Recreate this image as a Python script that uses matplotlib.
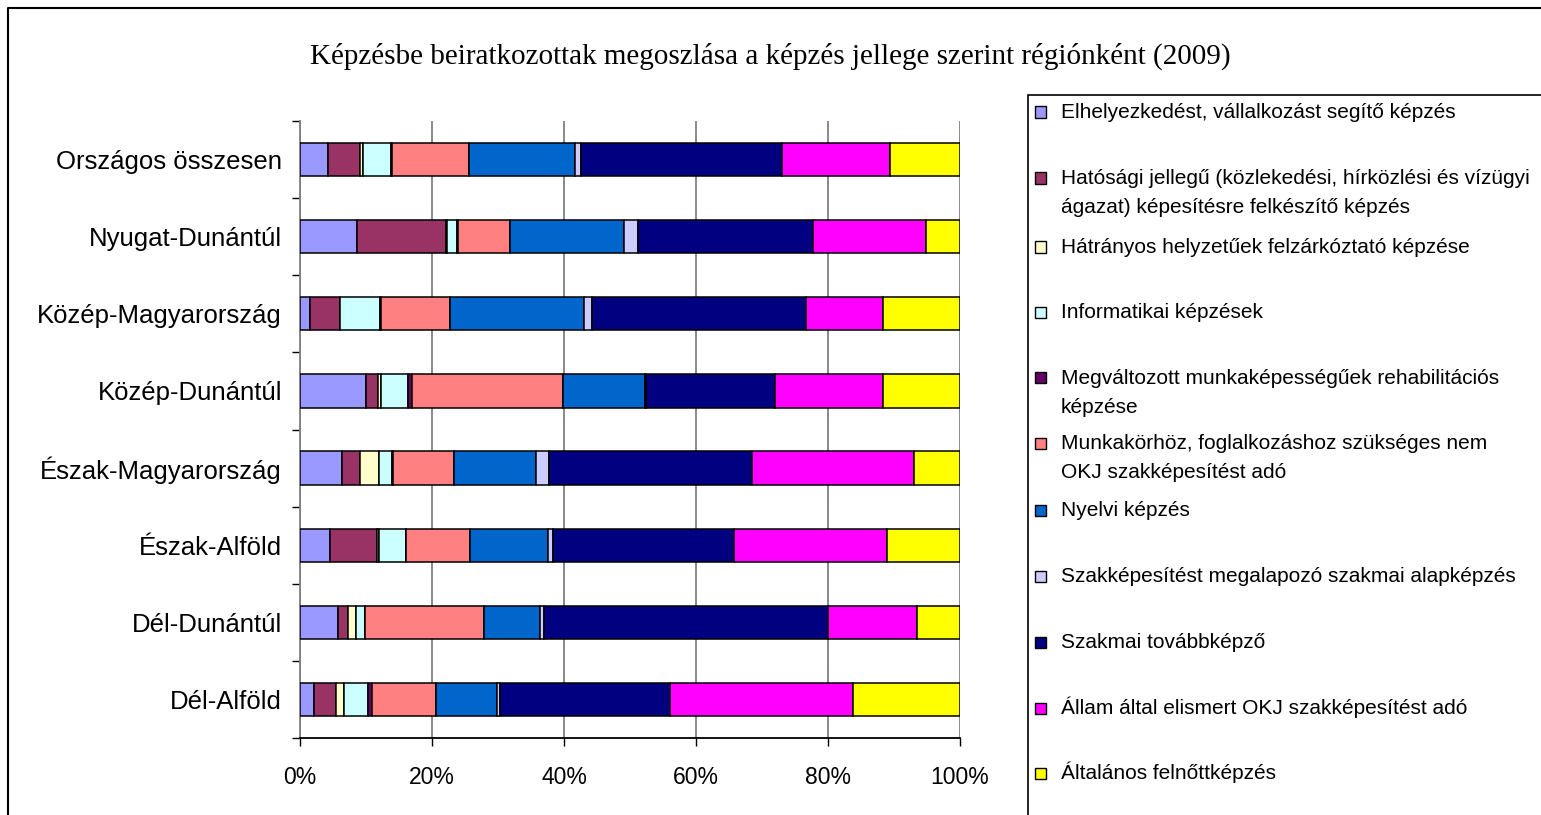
import matplotlib
matplotlib.use('Agg')
import matplotlib.pyplot as plt
from matplotlib.patches import Rectangle
from matplotlib.lines import Line2D
import numpy as np

W, H = 1541, 815
DPI = 100

regions = ["Országos összesen", "Nyugat-Dunántúl", "Közép-Magyarország",
           "Közép-Dunántúl", "Észak-Magyarország", "Észak-Alföld",
           "Dél-Dunántúl", "Dél-Alföld"]

series_names = [
    "Elhelyezkedést, vállalkozást segítő képzés",
    "Hatósági jellegű (közlekedési, hírközlési és vízügyi\nágazat) képesítésre felkészítő képzés",
    "Hátrányos helyzetűek felzárkóztató képzése",
    "Informatikai képzések",
    "Megváltozott munkaképességűek rehabilitációs\nképzése",
    "Munkakörhöz, foglalkozáshoz szükséges nem\nOKJ szakképesítést adó",
    "Nyelvi képzés",
    "Szakképesítést megalapozó szakmai alapképzés",
    "Szakmai továbbképző",
    "Állam által elismert OKJ szakképesítést adó",
    "Általános felnőttképzés",
]

colors = ["#9999FF", "#993366", "#FFFFCC", "#CCFFFF", "#660066", "#FF8080",
          "#0066CC", "#CCCCFF", "#000080", "#FF00FF", "#FFFF00"]

# shares (%) per region, in the order of `regions`
elhelyezkedest = [4.2, 8.7, 1.5, 10.0, 6.3, 4.6, 5.8, 2.1]
hatosagi       = [4.9, 13.4, 4.6, 1.8, 2.8, 7.0, 1.5, 3.4]
hatranyos      = [0.4, 0.2, 0.0, 0.4, 2.8, 0.4, 1.2, 1.1]
informatikai   = [4.3, 1.5, 6.0, 4.1, 2.1, 4.1, 1.3, 3.7]
megvaltozott   = [0.2, 0.1, 0.1, 0.7, 0.1, 0.0, 0.1, 0.6]
munkakorhoz    = [11.6, 7.9, 10.5, 22.9, 9.2, 9.6, 18.0, 9.7]
nyelvi         = [16.1, 17.3, 20.3, 12.3, 12.4, 11.9, 8.5, 9.3]
szakk_alap     = [0.9, 2.1, 1.2, 0.2, 2.1, 0.8, 0.5, 0.4]
szakmai_tovabb = [30.5, 26.6, 32.5, 19.5, 30.7, 27.3, 43.1, 25.7]
allam_okj      = [16.3, 17.0, 11.7, 16.5, 24.5, 23.3, 13.5, 27.8]
altalanos      = [10.6, 5.2, 11.6, 11.6, 7.0, 11.0, 6.5, 16.2]

series_values = [elhelyezkedest, hatosagi, hatranyos, informatikai, megvaltozott,
                 munkakorhoz, nyelvi, szakk_alap, szakmai_tovabb, allam_okj, altalanos]

xticks = [0, 20, 40, 60, 80, 100]
xticklabels = ["0%", "20%", "40%", "60%", "80%", "100%"]

title = "Képzésbe beiratkozottak megoszlása a képzés jellege szerint régiónként (2009)"

fig = plt.figure(figsize=(W / DPI, H / DPI), dpi=DPI)
fig.patch.set_facecolor("white")

def fx(x):
    return x / W

def fy(y):
    return 1 - y / H

# outer chart border (left and top edges visible)
fig.add_artist(Line2D([fx(8), fx(8), fx(1545)], [fy(830), fy(8), fy(8)],
                      transform=fig.transFigure, color="black", linewidth=1.5))

ax = fig.add_axes([fx(300), fy(738), fx(960) - fx(300), fy(121) - fy(738)])

data = np.array(series_values, dtype=float)
data = data / data.sum(axis=0) * 100
ypos = np.arange(len(regions))
left = np.zeros(len(regions))
for vals, col, name in zip(data, colors, series_names):
    ax.barh(ypos, vals, left=left, height=0.43, color=col, edgecolor="black",
            linewidth=1.1, label=name, zorder=3)
    left += vals

ax.set_xlim(0, 100)
ax.set_ylim(len(regions) - 0.5, -0.5)

ax.set_xticks(xticks)
ax.set_xticklabels(xticklabels, fontsize=16.5, family="Liberation Sans")
ax.tick_params(axis="x", direction="out", length=6, width=1, color="black", pad=14)

ax.set_yticks(np.arange(-0.5, len(regions), 1.0))
ax.set_yticklabels([])
ax.set_yticks(ypos, minor=True)
ax.set_yticklabels(regions, minor=True, fontsize=18.5, family="Liberation Sans")
ax.tick_params(axis="y", which="major", direction="out", length=5.5, width=1, color="black")
ax.tick_params(axis="y", which="minor", length=0, pad=13)

ax.xaxis.grid(True, color="#808080", linewidth=1.3, zorder=0)
ax.set_axisbelow(True)
for s in ["top", "right"]:
    ax.spines[s].set_visible(False)
ax.spines["left"].set_color("#808080")
ax.spines["left"].set_linewidth(1.3)
ax.spines["bottom"].set_color("black")
ax.spines["bottom"].set_linewidth(1.3)

fig.text(fx(770), fy(56), title, ha="center", va="center", fontsize=21,
         family="Liberation Serif")

# legend box
fig.patches.append(Rectangle((fx(1028), fy(830)), fx(1560) - fx(1028), fy(95) - fy(830),
                             transform=fig.transFigure, fill=False,
                             edgecolor="black", linewidth=1.2, zorder=1))
first_line_y = [112, 178, 247, 312, 378, 443, 510, 576, 642, 708, 773]
line_gap = 29
for yy, name, col in zip(first_line_y, series_names, colors):
    fig.patches.append(Rectangle((fx(1035), fy(yy + 5.5)), fx(11), 11 / H,
                                 transform=fig.transFigure, facecolor=col,
                                 edgecolor="black", linewidth=1.0, zorder=2))
    for i, line in enumerate(name.split("\n")):
        fig.text(fx(1061), fy(yy + 6 + i * line_gap), line, ha="left", va="baseline",
                 fontsize=15, family="Liberation Sans")

fig.savefig("out.png", dpi=DPI)
